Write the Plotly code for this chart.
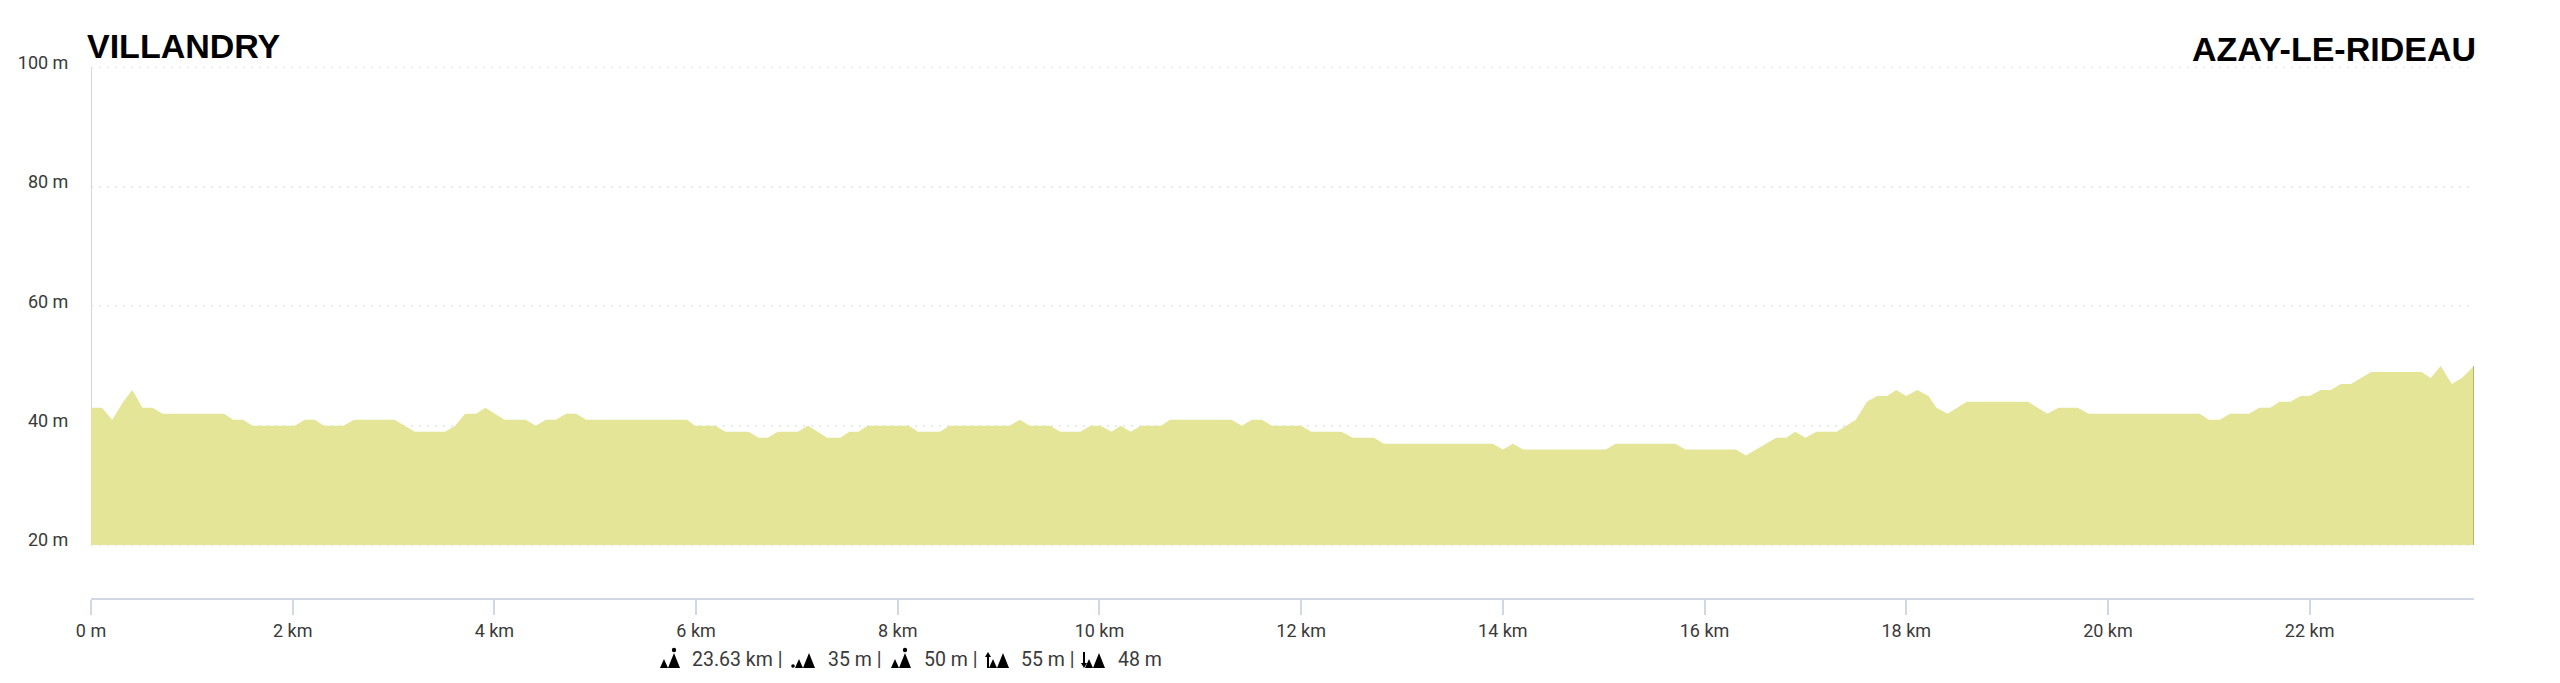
import plotly.graph_objects as go

# Elevation profile (km, m)
distance_km = [0.00,0.11,0.21,0.32,0.41,0.51,0.61,0.71,1.32,1.41,1.51,1.60,2.02,2.12,2.22,2.31,2.50,2.61,3.01,3.21,3.51,3.61,3.71,3.82,3.91,4.10,4.31,4.41,4.51,4.61,4.71,4.81,4.91,
 5.91,5.99,6.19,6.29,6.52,6.62,6.71,6.81,7.01,7.11,7.30,7.43,7.52,7.61,7.70,8.11,8.20,8.42,8.51,9.11,9.21,9.31,9.51,9.61,9.81,9.91,10.01,10.12,10.21,10.31,10.41,10.61,10.70,11.31,11.41,11.51,11.61,11.71,
 12.00,12.10,12.40,12.51,12.72,12.82,13.90,14.00,14.10,14.20,15.02,15.12,15.71,15.81,16.31,16.41,16.71,16.81,16.90,17.00,17.11,17.31,17.50,17.61,17.71,17.81,17.90,18.00,18.11,
 18.22,18.30,18.41,18.60,19.21,19.40,19.51,19.70,19.81,20.91,21.00,21.11,21.21,21.40,21.50,21.61,21.70,21.81,21.91,22.00,22.11,22.21,22.31,22.41,22.61,23.11,23.20,23.30,23.41,23.51,23.63]
elevation_m = [43,43,41,44,46,43,43,42,42,41,41,40,40,41,41,40,40,41,41,39,39,40,42,42,43,41,41,40,41,41,42,42,41,
 41,40,40,39,39,38,38,39,39,40,38,38,39,39,40,40,39,39,40,40,41,40,40,39,39,40,40,39,40,39,40,40,41,41,40,41,41,40,
 40,39,39,38,38,37,37,36,37,36,36,37,37,36,36,35,38,38,39,38,39,39,41,44,45,45,46,45,46,
 45,43,42,44,44,42,43,43,42,42,41,41,42,42,43,43,44,44,45,45,46,46,47,47,49,49,48,50,47,48,50]
base_m = 20
total_km = 23.63
y_ticks = [20, 40, 60, 80, 100]
y_labels = ["20 m", "40 m", "60 m", "80 m", "100 m"]
x_ticks = [0, 2, 4, 6, 8, 10, 12, 14, 16, 18, 20, 22]
x_labels = ["0 m", "2 km", "4 km", "6 km", "8 km", "10 km", "12 km", "14 km", "16 km", "18 km", "20 km", "22 km"]
start_name = "VILLANDRY"
end_name = "AZAY-LE-RIDEAU"
stats = ["23.63 km |", "35 m |", "50 m |", "55 m |", "48 m"]

PAGE = 8  # default page margin around the figure
W, H = 2560 - PAGE, 683 - PAGE
PW, PH = 2383, 531
L, T = 91 - PAGE, 67 - PAGE
R, B = W - L - PW, H - T - PH
FILL = "#E4E597"
AXIS = "#D0D7E5"
GRID = "#E8EAEE"
TEXT = "#3A3A3A"
FONT = "Roboto"


def px(x):
    return (x - 91) / PW


def py(y):
    return (598 - y) / PH


fig = go.Figure()
fig.add_trace(go.Scatter(x=[0, total_km], y=[y_ticks[-1]] * 2, mode="lines", cliponaxis=False,
                         line=dict(color=GRID, width=1.5, dash="2px,6px"), hoverinfo="skip", showlegend=False))
fig.add_trace(go.Scatter(x=[0, 0], y=[base_m, y_ticks[-1]], mode="lines", cliponaxis=False,
                         line=dict(color=AXIS, width=2), hoverinfo="skip", showlegend=False))
fig.add_trace(go.Scatter(x=distance_km, y=[base_m] * len(distance_km), mode="lines",
                         line=dict(width=0), hoverinfo="skip", showlegend=False))
fig.add_trace(go.Scatter(x=distance_km, y=elevation_m, mode="lines", fill="tonexty",
                         fillcolor=FILL, line=dict(width=0, color=FILL), showlegend=False))
fig.add_trace(go.Scatter(x=[total_km, total_km], y=[base_m, elevation_m[-1]], mode="lines", cliponaxis=False,
                         line=dict(color="#A9A265", width=1.5), hoverinfo="skip", showlegend=False))

annos = [
    dict(text=f"<b>{start_name}</b>", x=px(86), y=py(46.5), xanchor="left", yanchor="middle",
         font=dict(family="Liberation Sans", size=34, color="#000000")),
    dict(text=f"<b>{end_name}</b>", x=px(2477), y=py(49), xanchor="right", yanchor="middle",
         font=dict(family="Liberation Sans", size=34, color="#000000")),
]
for label, x0 in zip(stats, [691, 827, 923, 1020, 1117]):
    annos.append(dict(text=label, x=px(x0), y=py(660), xanchor="left", yanchor="middle",
                      font=dict(family=FONT, size=19.5, color=TEXT)))
for a in annos:
    a.update(xref="paper", yref="paper", showarrow=False, borderpad=0)


def poly(points):
    d = "M " + " L ".join(f"{px(x):.5f},{py(y):.5f}" for x, y in points) + " Z"
    return dict(type="path", path=d, xref="paper", yref="paper",
                fillcolor="#000000", line=dict(width=0), layer="above")


def hills(x0):
    return [poly([(x0, 668), (x0 + 4, 659), (x0 + 8, 668)]),
            poly([(x0 + 8, 668), (x0 + 14, 653), (x0 + 20, 668)])]


def dot(cx, cy, r=2.2):
    return dict(type="circle", xref="paper", yref="paper", x0=px(cx - r), x1=px(cx + r),
                y0=py(cy + r), y1=py(cy - r), fillcolor="#000000", line=dict(width=0))


shapes = []
shapes += hills(660) + [dot(674, 650)]
shapes += hills(795) + [dot(793, 666, 1.8)]
shapes += hills(891) + [dot(905, 650)]
shapes += hills(989) + [poly([(987, 668), (987, 657), (985, 657), (988, 652), (991, 657), (989, 657), (989, 668)])]
shapes += hills(1085) + [poly([(1083, 652), (1083, 663), (1081, 663), (1084, 668), (1087, 663), (1085, 663), (1085, 652)])]

fig.update_layout(
    width=W, height=H, autosize=False,
    margin=dict(l=L, r=R, t=T, b=B, autoexpand=False),
    paper_bgcolor="#FFFFFF", plot_bgcolor="#FFFFFF",
    showlegend=False, annotations=annos, shapes=shapes,
    xaxis=dict(range=[0, total_km], tickmode="array", tickvals=x_ticks, ticktext=x_labels,
               showgrid=False, zeroline=False, showline=True, linecolor=AXIS, linewidth=2,
               ticks="outside", ticklen=15, tickcolor=AXIS, tickwidth=1.5, automargin=False,
               tickfont=dict(family=FONT, size=18, color=TEXT), tickangle=0),
    yaxis=dict(range=[11.14, 100.1], tickmode="array", tickvals=y_ticks, ticktext=y_labels,
               showgrid=True, gridcolor=GRID, gridwidth=1.5, griddash="2px,6px",
               zeroline=False, showline=False, ticks="outside", ticklen=0, automargin=False,
               ticklabelstandoff=18, ticklabelshift=-5,
               tickfont=dict(family=FONT, size=18, color=TEXT)),
)
fig.write_html("out.html", config={"displayModeBar": False})
